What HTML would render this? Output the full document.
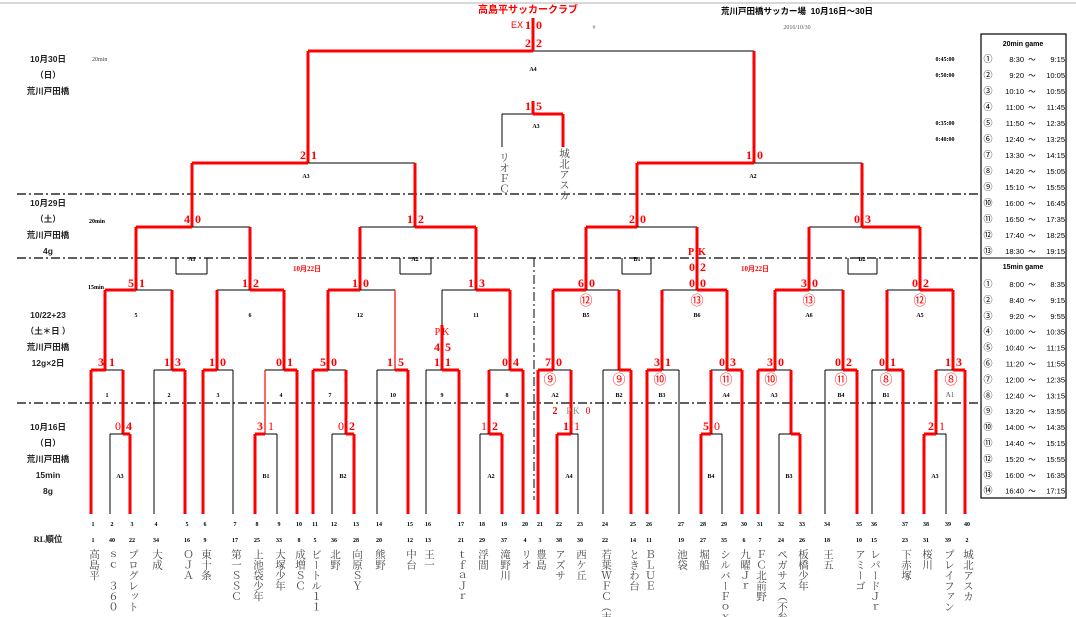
<!DOCTYPE html>
<html><head><meta charset="utf-8">
<style>
html,body{margin:0;padding:0;background:#fff;}
#c{position:relative;width:1076px;height:617px;overflow:hidden;background:#fff;font-family:"Liberation Sans","Noto Sans CJK JP",sans-serif;}
svg{position:absolute;left:0;top:0;}
.nm{position:absolute;top:549px;writing-mode:vertical-rl;font-size:10.5px;line-height:12px;color:#444;font-family:"Liberation Serif","Noto Serif CJK SC","Noto Sans CJK JP",serif;white-space:nowrap;}
</style></head><body>
<div id="c">
<svg id="s" width="1076" height="617" xmlns="http://www.w3.org/2000/svg"></svg>
</div>
<script>
var S=document.getElementById('s'),out='';
var RED='#f00';
function ln(x1,y1,x2,y2,st){var w=1,c='#000';if(st=='R'){w=3;c=RED}else if(st=='r'){w=1.2;c=RED}
out+='<line x1="'+x1+'" y1="'+y1+'" x2="'+x2+'" y2="'+y2+'" stroke="'+c+'" stroke-width="'+w+'"/>';}
function tx(x,y,t,sz,col,wt,fam,anc){out+='<text x="'+x+'" y="'+y+'" font-size="'+sz+'" fill="'+(col||'#000')+'" font-weight="'+(wt||'normal')+'" text-anchor="'+(anc||'middle')+'" font-family="'+(fam||'Liberation Sans, Noto Sans CJK JP, sans-serif')+'">'+t+'</text>';}
// match: l,r,y,p,redFrom,redTo,lStyle,lBottom,rStyle,rBottom
function m(l,r,y,p,redL,ls,lb,rs,rb){
 if(redL){ln(l,y,p,y,'R');ln(p,y,r,y,'k');}else{ln(l,y,p,y,'k');ln(p,y,r,y,'R');}
 ln(l,y,l,lb,ls);ln(r,y,r,rb,rs);}
// top line
ln(0,3,1076,3,'k');out=out.replace(/stroke="#000" stroke-width="1"\/>$/,'stroke="#ccc" stroke-width="1.5"/>');
// dashed lines
[194,258,403].forEach(function(y){out+='<line x1="17" y1="'+y+'" x2="980" y2="'+y+'" stroke="#000" stroke-width="1.2" stroke-dasharray="9,3,2,3"/>';});
out+='<line x1="534" y1="258" x2="534" y2="500" stroke="#000" stroke-width="1" stroke-dasharray="9,3,2,3"/>';
// U boxes
[[176,207],[400,431],[622,651],[848,877]].forEach(function(b){ln(b[0],258,b[0],274,'k');ln(b[1],258,b[1],274,'k');ln(b[0],274,b[1],274,'k');});
// final
ln(308,51,533,51,'R');ln(533,51,754,51,'k');ln(533,18,533,51,'R');ln(308,51,308,163,'R');ln(754,51,754,163,'R');
// third
ln(502,114,533,114,'k');ln(533,114,563,114,'R');ln(533,101,533,114,'R');ln(502,114,502,147,'k');ln(563,114,563,147,'R');
// SF
m(192,415,163,308,1,'R',227,'R',227);
m(637,862,163,754,1,'R',227,'R',227);
// QF
m(136,250,227,192,1,'R',290,'R',290);
m(360,476,227,415,0,'R',290,'R',290);
m(586,697,227,637,1,'R',290,'R',290);
m(809,920,227,862,0,'R',290,'R',290);
// R2
m(105,172,290,136,1,'R',370,'R',370);
m(217,284,290,250,0,'R',370,'R',370);
m(328,395,290,360,1,'R',370,'r',370);
m(442,510,290,476,0,'k',370,'R',370);ln(442,325,442,370,'R');
m(553,619,290,586,1,'R',370,'R',370);
m(662,727,290,697,0,'R',370,'R',370);
m(775,843,290,809,1,'R',370,'R',370);
m(887,953,290,920,0,'R',370,'R',370);
// R1
var B=514,T0=434;
m(91,123,370,106,1,'R',B,'R',T0);
m(154,185,370,172,0,'k',B,'R',B);
m(203,233,370,217,1,'R',B,'k',B);
m(265,297,370,284,0,'r',T0,'R',B);
m(313,346,370,328,1,'R',B,'R',T0);
m(377,408,370,395,0,'k',B,'R',B);
m(426,459,370,442,0,'k',B,'R',B);
m(489,523,370,510,0,'R',T0,'R',B);
m(538,571,370,553,1,'R',B,'R',T0);
m(603,631,370,619,0,'k',B,'R',B);
m(647,679,370,662,1,'R',B,'k',B);
m(711,742,370,727,0,'R',T0,'R',B);
m(758,791,370,775,1,'R',B,'R',T0);
m(825,857,370,843,0,'k',B,'R',B);
m(872,903,370,887,0,'k',B,'R',B);
m(936,965,370,953,0,'R',T0,'R',B);
// R0
m(110,130,434,123,0,'k',B,'R',B);
m(255,277,434,265,1,'R',B,'k',B);
m(332,354,434,346,0,'k',B,'R',B);
m(480,502,434,489,0,'k',B,'R',B);
m(557,578,434,571,1,'R',B,'k',B);
m(701,722,434,711,1,'R',B,'k',B);
m(779,800,434,791,0,'k',B,'R',B);
m(924,946,434,936,1,'R',B,'k',B);
// scores
var SF='Liberation Serif, serif';
function sc(p,y,a,b,wa,wb){tx(p-5,y,a,12,RED,wa===0?'normal':'bold',SF);tx(p+6,y,b,12,RED,wb===0?'normal':'bold',SF);}
sc(533,47,'2','2');sc(533,29,'1','0');tx(517,28,'EX',9,RED);
sc(533,110,'1','5');
sc(308,159,'2','1');sc(754,159,'1','0');
sc(192,223,'4','0');sc(415,223,'1','2');sc(637,223,'2','0');sc(862,223,'0','3');
tx(697,255,'P&#8201;&#8201;K',10,RED,'bold',SF);sc(697,271,'0','2');
[[136,'5','1'],[250,'1','2'],[360,'1','0'],[476,'1','3'],[586,'6','0'],[697,'0','0'],[809,'3','0'],[920,'0','2']].forEach(function(a){sc(a[0],287,a[1],a[2]);});
[[106,'3','1'],[172,'1','3'],[217,'1','0'],[284,'0','1'],[328,'5','0'],[395,'1','5'],[442,'1','1'],[510,'0','4'],[553,'7','0'],[662,'3','1'],[727,'0','3'],[775,'3','0'],[843,'0','2'],[887,'0','1'],[953,'1','3']].forEach(function(a){sc(a[0],366,a[1],a[2]);});
tx(442,335,'P&#8201;K',10,RED,'normal',SF);sc(442,351,'4','5');
sc(123,430,'0','4',0,1);sc(265,430,'3','1',1,0);sc(346,430,'0','2',0,1);sc(489,430,'1','2',0,1);
sc(571,430,'1','1',1,0);sc(711,430,'5','0',1,0);sc(936,430,'2','1',1,0);
tx(555,414,'2',10,RED,'bold',SF);tx(573,414,'P&#8201;K',9,'#888','normal',SF);tx(588,414,'0',10,RED,'normal',SF);
// circled
[[586,'⑫'],[697,'⑬'],[809,'⑬'],[920,'⑫']].forEach(function(a){tx(a[0],305,a[1],13,RED);});
[[550,'⑨'],[619,'⑨'],[660,'⑩'],[726,'⑪'],[771,'⑩'],[841,'⑪'],[886,'⑧'],[951,'⑧']].forEach(function(a){tx(a[0],384,a[1],13,RED);});
// match labels
function ml(x,y,t){tx(x,y,t,6,'#000','bold',SF);}
ml(533,71,'A4');ml(536,128,'A3');ml(306,178,'A3');ml(753,178,'A2');
ml(192,261,'A1');ml(415,261,'A2');ml(637,261,'B1');ml(862,261,'B2');
[[136,'5'],[250,'6'],[360,'12'],[476,'11'],[586,'B5'],[697,'B6'],[809,'A6'],[920,'A5']].forEach(function(a){ml(a[0],317,a[1]);});
[[107,'1'],[169,'2'],[218,'3'],[281,'4'],[330,'7'],[393,'10'],[442,'9'],[507,'8'],[555,'A2'],[619,'B2'],[662,'B3'],[726,'A4'],[774,'A3'],[841,'B4'],[886,'B1']].forEach(function(a){ml(a[0],397,a[1]);});
tx(950,397,'A1',7,'#555','normal',SF);
[[120,'A3'],[266,'B1'],[343,'B2'],[491,'A2'],[569,'A4'],[711,'B4'],[789,'B3'],[935,'A3']].forEach(function(a){ml(a[0],478,a[1]);});
// small texts
tx(92,61,'20min',6,'#444','normal',SF,'start');tx(89,223,'20min',6,'#000','bold',SF,'start');tx(88,289,'15min',6,'#000','bold',SF,'start');
tx(307,271,'10月22日',7,RED,'bold',SF);tx(755,271,'10月22日',7,RED,'bold',SF);
tx(945,61,'0:45:00',6,'#000','bold',SF);tx(945,77,'0:50:00',6,'#000','bold',SF);tx(945,125,'0:35:00',6,'#000','bold',SF);tx(945,141,'0:40:00',6,'#000','bold',SF);
// title
tx(528,13,'高島平サッカークラブ',10,RED,'bold');
tx(797,14,'荒川戸田橋サッカー場&#160;&#160;10月16日～30日',8.5,'#000','bold');
tx(797,29,'2016/10/30',6,'#555','normal',SF);tx(594,29,'#',6,'#777','normal',SF);
// left labels
function L(y,t){tx(48,y,t,8.5,'#222','bold');}
L(62,'10月30日');L(78,'（日）');L(94,'荒川戸田橋');
L(206,'10月29日');L(222,'（土）');L(238,'荒川戸田橋');L(254,'4g');
L(318,'10/22+23');L(334,'（土＊日 ）');L(350,'荒川戸田橋');L(366,'12g×2日');
L(430,'10月16日');L(446,'（日）');L(462,'荒川戸田橋');L(478,'15min');L(494,'8g');
tx(48,542,'RL順位',8.5,'#222','bold',SF);
// table
out+='<rect x="981" y="34" width="85" height="464" fill="none" stroke="#000" stroke-width="1.2"/>';
ln(981,258,1066,258,'k');
tx(1023,46,'20min game',7,'#000','bold');tx(1023,269,'15min game',7,'#000','bold');
var c='①②③④⑤⑥⑦⑧⑨⑩⑪⑫⑬⑭';
var t20=[['8:30','9:15'],['9:20','10:05'],['10:10','10:55'],['11:00','11:45'],['11:50','12:35'],['12:40','13:25'],['13:30','14:15'],['14:20','15:05'],['15:10','15:55'],['16:00','16:45'],['16:50','17:35'],['17:40','18:25'],['18:30','19:15']];
var t15=[['8:00','8:35'],['8:40','9:15'],['9:20','9:55'],['10:00','10:35'],['10:40','11:15'],['11:20','11:55'],['12:00','12:35'],['12:40','13:15'],['13:20','13:55'],['14:00','14:35'],['14:40','15:15'],['15:20','15:55'],['16:00','16:35'],['16:40','17:15']];
function row(y,i,a){tx(988,y,c[i],9,'#000');tx(1024,y,a[0],7.5,'#000','normal',null,'end');tx(1032,y,'～',7.5,'#000');tx(1065,y,a[1],7.5,'#000','normal',null,'end');}
t20.forEach(function(a,i){row(62+i*16,i,a);});
t15.forEach(function(a,i){row(287+i*15.9,i,a);});
// team numbers & ranks
var X=[91,110,130,154,185,203,233,255,277,297,313,332,354,377,408,426,459,480,502,523,538,557,578,603,631,647,679,701,722,742,758,779,800,825,857,872,903,924,946,965];
var RL=[1,40,22,34,16,9,17,25,33,8,5,36,28,20,12,13,21,29,37,4,3,38,30,22,14,11,19,27,35,6,7,24,26,18,10,15,23,31,39,2];
var N=['高島平','ｓｃ　３６０','プログレット','大成','ＯＪＡ','東十条','第一ＳＳＣ','上池袋少年','大塚少年','成増ＳＣ','ビートル１１','北野','向原ＳＹ','熊野','中台','王一','ｔｆａＪｒ','浮間','滝野川','リオ','豊島','アズサ','西ケ丘','若葉ＷＦＣ（末','ときわ台','ＢＬＵＥ','池袋','堀船','シルバーＦｏｘ','九曜Ｊｒ','ＦＣ北前野','ペガサス（不参','板橋少年','王五','アミーゴ','レパードＪｒ','下赤塚','桜川','プレイファン','城北アスカ'];
var html='';
X.forEach(function(x,i){ml(x+2,526,String(i+1));ml(x+2,542,String(RL[i]));
 html+='<div class="nm" style="left:'+(x-4)+'px">'+N[i]+'</div>';});
html+='<div class="nm" style="left:497px;top:152px">リオＦＣ</div><div class="nm" style="left:557px;top:148px">城北アスカ</div>';
S.innerHTML=out;
document.getElementById('c').insertAdjacentHTML('beforeend',html);
</script>
</body></html>
